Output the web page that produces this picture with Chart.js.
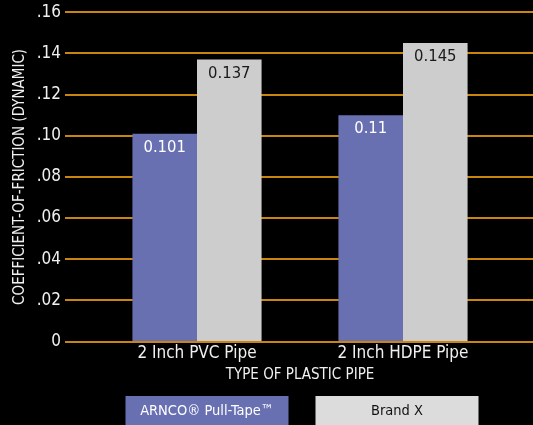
<!DOCTYPE html>
<html>
<head>
<meta charset="utf-8">
<script src="https://cdn.jsdelivr.net/npm/chart.js@4/dist/chart.umd.min.js"></script>
<style>
  html, body { margin: 0; padding: 0; background: #000; }
  #wrap { width: 533px; height: 425px; }
</style>
</head>
<body>
<div id="wrap"><canvas id="chart"></canvas></div>
<script>
// data
const categories = ['2 Inch PVC Pipe', '2 Inch HDPE Pipe'];
const arncoValues = [0.101, 0.11];
const brandXValues = [0.137, 0.145];
const seriesNames = ['ARNCO\u00ae Pull-Tape\u2122', 'Brand X'];
const yTicks = [0, 0.02, 0.04, 0.06, 0.08, 0.10, 0.12, 0.14, 0.16];

const FONT = "'DejaVu Sans Condensed', 'Liberation Sans Narrow', sans-serif";
const BLUE = '#6870b2';
const GRAY = '#cdcdcd';
const GRID = '#c8860e';

function tickText(v) {
  if (v === 0) return '0';
  return '.' + Math.round(v * 100).toString().padStart(2, '0');
}

// orange lines running out past the axis labels
const gridLines = {
  id: 'gridLines',
  beforeDatasetsDraw(chart) {
    const ctx = chart.ctx;
    const y = chart.scales.y;
    ctx.save();
    ctx.strokeStyle = GRID;
    ctx.lineWidth = 2;
    yTicks.forEach(t => {
      const py = Math.round(y.getPixelForValue(t));
      ctx.beginPath();
      ctx.moveTo(65, py);
      ctx.lineTo(chart.width, py);
      ctx.stroke();
    });
    ctx.restore();
  }
};

// numbers inside the top of each bar
const barValues = {
  id: 'barValues',
  afterDatasetsDraw(chart) {
    const ctx = chart.ctx;
    ctx.save();
    ctx.font = '16.5px ' + FONT;
    ctx.textAlign = 'center';
    ctx.textBaseline = 'middle';
    chart.data.datasets.forEach((ds, i) => {
      chart.getDatasetMeta(i).data.forEach((bar, j) => {
        ctx.fillStyle = i === 0 ? '#ffffff' : '#1a1a1a';
        ctx.fillText(String(ds.data[j]), bar.x, bar.y + 14);
      });
    });
    ctx.restore();
  }
};

// boxed legend along the bottom
const boxLegend = {
  id: 'boxLegend',
  afterDraw(chart) {
    const ctx = chart.ctx;
    const area = chart.chartArea;
    const mid = (area.left + area.right) / 2 + 2;
    const w = 163, h = 30, gap = 27, top = 396;
    const boxes = [
      { x: mid - gap / 2 - w, fill: BLUE, text: '#ffffff' },
      { x: mid + gap / 2, fill: '#dcdcdc', text: '#111111' }
    ];
    ctx.save();
    ctx.font = '14.5px ' + FONT;
    ctx.textAlign = 'center';
    ctx.textBaseline = 'middle';
    boxes.forEach((b, i) => {
      ctx.fillStyle = b.fill;
      ctx.fillRect(b.x, top, w, h);
      ctx.fillStyle = b.text;
      ctx.fillText(seriesNames[i], b.x + w / 2, top + 15);
    });
    ctx.restore();
  }
};

new Chart(document.getElementById('chart'), {
  type: 'bar',
  data: {
    labels: categories,
    datasets: [
      { label: seriesNames[0], data: arncoValues, backgroundColor: BLUE },
      { label: seriesNames[1], data: brandXValues, backgroundColor: GRAY }
    ]
  },
  options: {
    responsive: true,
    maintainAspectRatio: false,
    animation: false,
    layout: { padding: { top: 0, right: 27, bottom: 41, left: 0 } },
    datasets: {
      bar: { barPercentage: 1, categoryPercentage: 0.627 }
    },
    plugins: {
      legend: { display: false },
      tooltip: { enabled: false }
    },
    scales: {
      x: {
        grid: { display: false, drawTicks: false },
        border: { display: false },
        ticks: { color: '#f0f0f0', font: { family: FONT, size: 17 }, padding: 2 },
        title: {
          display: true,
          text: 'TYPE OF PLASTIC PIPE',
          color: '#f0f0f0',
          font: { family: FONT, size: 15 },
          padding: { top: 0, bottom: 0 }
        }
      },
      y: {
        min: 0,
        max: 0.16,
        afterFit(scale) { scale.width = 94; },
        afterBuildTicks(scale) { scale.ticks = yTicks.map(v => ({ value: v })); },
        // invisible tick marks push the labels out to the left
        grid: { display: true, color: 'transparent', drawTicks: true, tickLength: 31 },
        border: { display: false },
        ticks: {
          color: '#f0f0f0',
          font: { family: FONT, size: 17 },
          padding: 2,
          callback: v => tickText(v)
        },
        title: {
          display: true,
          text: 'COEFFICIENT-OF-FRICTION (DYNAMIC)',
          color: '#f0f0f0',
          font: { family: FONT, size: 15 },
          padding: { top: 11, bottom: 0 }
        }
      }
    }
  },
  plugins: [gridLines, barValues, boxLegend]
});
</script>
</body>
</html>
